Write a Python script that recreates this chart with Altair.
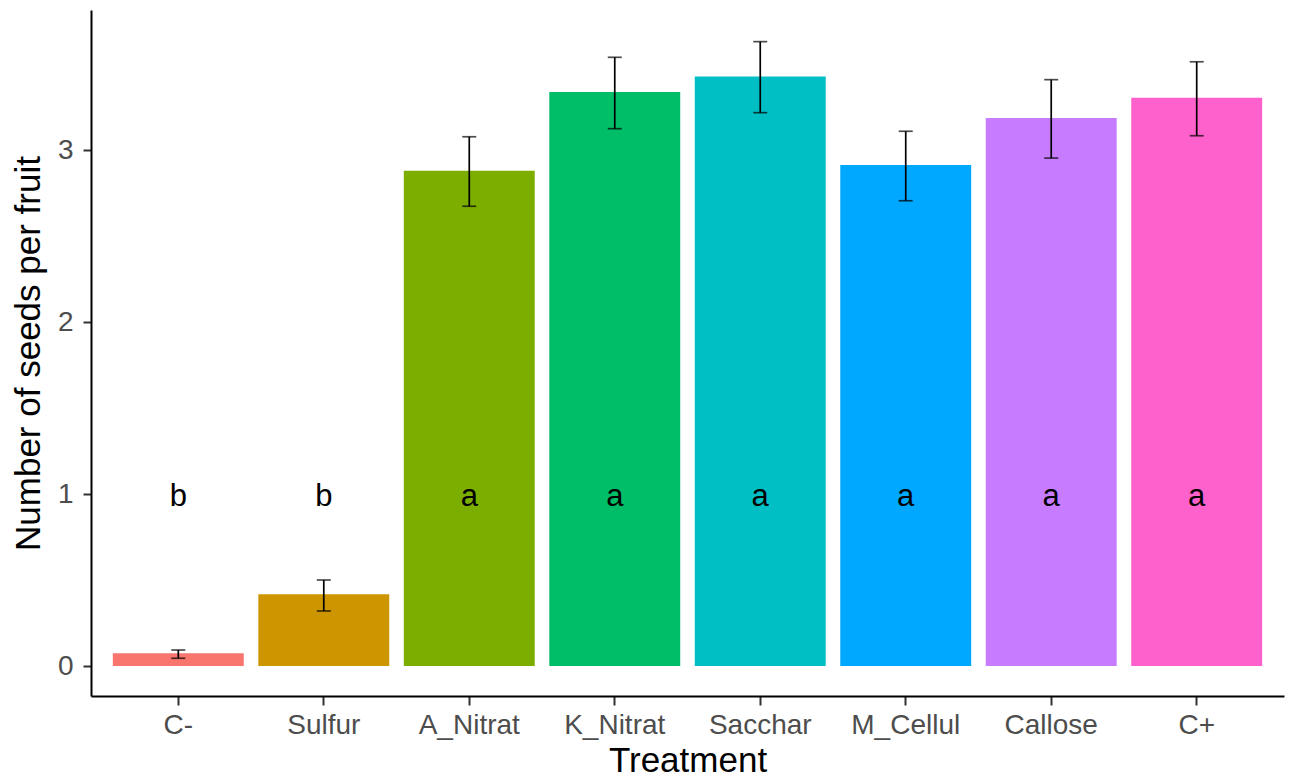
import altair as alt
import pandas as pd

treatments = ["C-", "Sulfur", "A_Nitrat", "K_Nitrat", "Sacchar", "M_Cellul", "Callose", "C+"]
means = [0.074, 0.417, 2.880, 3.337, 3.428, 2.913, 3.186, 3.304]
err_low = [0.045, 0.320, 2.673, 3.124, 3.217, 2.705, 2.953, 3.083]
err_high = [0.093, 0.500, 3.077, 3.539, 3.630, 3.109, 3.409, 3.513]
letters = ["b", "b", "a", "a", "a", "a", "a", "a"]
letter_y = [1, 1, 1, 1, 1, 1, 1, 1]
colors = ["#F8766D", "#CD9600", "#7CAE00", "#00BE67", "#00BFC4", "#00A9FF", "#C77CFF", "#FF61CC"]

df = pd.DataFrame({
    "Treatment": treatments,
    "mean": means,
    "lo": err_low,
    "hi": err_high,
    "letter": letters,
    "ly": letter_y,
})

FONT = "Liberation Sans, Arial, sans-serif"

x = alt.X("Treatment:N", sort=treatments,
          scale=alt.Scale(paddingInner=0.1, paddingOuter=0.15),
          axis=alt.Axis(title="Treatment", labelAngle=0, labelFontSize=28,
                        labelColor="#4D4D4D", labelBaseline="alphabetic",
                        labelPadding=28, tickSize=9, tickWidth=2,
                        tickColor="#333333", domainColor="black", domainWidth=2,
                        titleFontSize=35, titleFontWeight="normal", titleColor="black",
                        titleBaseline="alphabetic", titleY=75, labelFont=FONT, titleFont=FONT))

yscale = alt.Scale(domain=[-0.1744, 3.814], nice=False, zero=False)

base = alt.Chart(df)

bars = base.mark_bar().encode(
    x=x,
    y=alt.Y("mean:Q", scale=yscale,
            axis=alt.Axis(title="Number of seeds per fruit", values=[0, 1, 2, 3], format="d",
                          labelFontSize=28, labelColor="#4D4D4D", labelPadding=10,
                          tickSize=8, tickWidth=2, tickColor="#333333",
                          domainColor="black", domainWidth=2, grid=False,
                          titleFontSize=35, titleFontWeight="normal", titleColor="black",
                          titleBaseline="alphabetic", titleX=-52, titleY=343,
                          labelFont=FONT, titleFont=FONT)),
    y2=alt.datum(0),
    color=alt.Color("Treatment:N", sort=treatments,
                    scale=alt.Scale(domain=treatments, range=colors), legend=None),
)

rules = base.mark_rule(color="black", strokeWidth=1.7).encode(
    x=alt.X("Treatment:N", sort=treatments),
    y=alt.Y("lo:Q", scale=yscale),
    y2="hi:Q",
)

cap_lo = base.mark_tick(color="black", thickness=1.7, size=14).encode(
    x=alt.X("Treatment:N", sort=treatments),
    y=alt.Y("lo:Q", scale=yscale),
)
cap_hi = base.mark_tick(color="black", thickness=1.7, size=14).encode(
    x=alt.X("Treatment:N", sort=treatments),
    y=alt.Y("hi:Q", scale=yscale),
)

text = base.mark_text(fontSize=31, font=FONT, color="black", baseline="alphabetic", dy=12).encode(
    x=alt.X("Treatment:N", sort=treatments),
    y=alt.Y("ly:Q", scale=yscale),
    text="letter:N",
)

chart = alt.layer(bars, rules, cap_lo, cap_hi, text).properties(
    width=1193, height=686,
    autosize=alt.AutoSizeParams(type="none"),
    padding={"left": 83, "top": 2, "right": 1, "bottom": 76},
).configure(background="white", view=alt.ViewConfig(stroke=None))

chart.save("out.html", embed_options={"renderer": "svg", "actions": False})
